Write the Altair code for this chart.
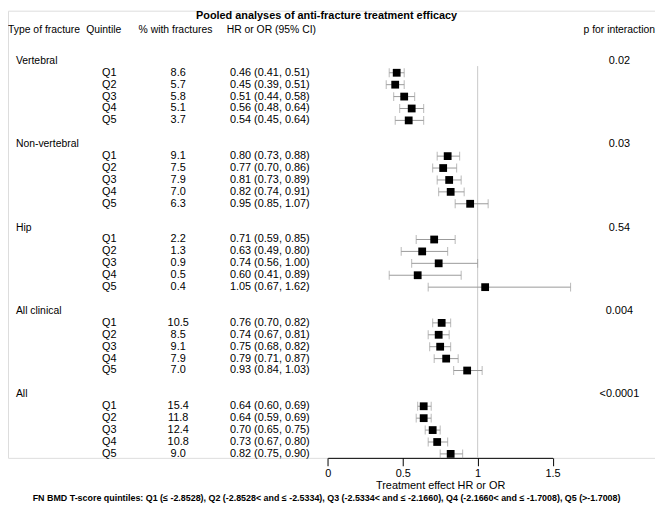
import altair as alt
import pandas as pd

# ---------------- data ----------------
groups = ["Vertebral", "Non-vertebral", "Hip", "All clinical", "All"]
quintiles = ["Q1", "Q2", "Q3", "Q4", "Q5"]
pct_with_fractures = [
    [8.6, 5.7, 5.8, 5.1, 3.7],
    [9.1, 7.5, 7.9, 7.0, 6.3],
    [2.2, 1.3, 0.9, 0.5, 0.4],
    [10.5, 8.5, 9.1, 7.9, 7.0],
    [15.4, 11.8, 12.4, 10.8, 9.0],
]
hr = [
    [0.46, 0.45, 0.51, 0.56, 0.54],
    [0.80, 0.77, 0.81, 0.82, 0.95],
    [0.71, 0.63, 0.74, 0.60, 1.05],
    [0.76, 0.74, 0.75, 0.79, 0.93],
    [0.64, 0.64, 0.70, 0.73, 0.82],
]
ci_low = [
    [0.41, 0.39, 0.44, 0.48, 0.45],
    [0.73, 0.70, 0.73, 0.74, 0.85],
    [0.59, 0.49, 0.56, 0.41, 0.67],
    [0.70, 0.67, 0.68, 0.71, 0.84],
    [0.60, 0.59, 0.65, 0.67, 0.75],
]
ci_high = [
    [0.51, 0.51, 0.58, 0.64, 0.64],
    [0.88, 0.86, 0.89, 0.91, 1.07],
    [0.85, 0.80, 1.00, 0.89, 1.62],
    [0.82, 0.81, 0.82, 0.87, 1.03],
    [0.69, 0.69, 0.75, 0.80, 0.90],
]
p_interaction = ["0.02", "0.03", "0.54", "0.004", "<0.0001"]
x_ticks = [0, 0.5, 1, 1.5]
title_text = "Pooled analyses of anti-fracture treatment efficacy"
footnote_text = ("FN BMD T-score quintiles: Q1 (\u2264 -2.8528), Q2 (-2.8528< and \u2264 -2.5334), "
                 "Q3 (-2.5334< and \u2264 -2.1660), Q4 (-2.1660< and \u2264 -1.7008), Q5 (>-1.7008)")

# ---------------- tables ----------------
rows = []
group_rows = []
for g, name in enumerate(groups):
    group_rows.append({"row": 7 * g, "group": name, "p": p_interaction[g]})
    for q in range(5):
        rows.append({
            "row": 7 * g + 1 + q,
            "quintile": quintiles[q],
            "pct": f"{pct_with_fractures[g][q]:.1f}",
            "hr": hr[g][q],
            "lo": ci_low[g][q],
            "hi": ci_high[g][q],
            "label": f"{hr[g][q]:.2f} ({ci_low[g][q]:.2f}, {ci_high[g][q]:.2f})",
        })
df = pd.DataFrame(rows)
gdf = pd.DataFrame(group_rows)

FONT = "Liberation Sans"
FS = 10.5
FS_DATA = 11
W, H = 654, 452

xscale = alt.Scale(domain=[0, 1.5], range=[323.2, 550.5], nice=False, zero=False)
yenc = alt.Y("row:Q", scale=alt.Scale(domain=[0, 33], range=[50.7, 448], nice=False, zero=False), axis=None)

base = alt.Chart(df)

ref_line = alt.Chart(pd.DataFrame({"v": [1]})).mark_rule(color="#c8c8c8", strokeWidth=1).encode(
    x=alt.X("v:Q", scale=xscale,
            axis=alt.Axis(values=x_ticks, grid=False, tickSize=8, labelFontSize=11, labelFont=FONT,
                          labelColor="black", domainColor="black", tickColor="black",
                          title="Treatment effect HR or OR", titleFont=FONT, titleFontSize=11,
                          titleFontWeight="normal", titleColor="black", titlePadding=1,
                          labelPadding=2, format="~g", labelFlush=False)),
    y=alt.value(56), y2=alt.value(H),
)

ci = base.mark_rule(color="#9a9a9a", strokeWidth=1).encode(
    x=alt.X("lo:Q", scale=xscale), x2="hi:Q", y=yenc)
cap_lo = base.mark_tick(orient="vertical", size=9, thickness=1, color="#9a9a9a").encode(
    x=alt.X("lo:Q", scale=xscale), y=yenc)
cap_hi = base.mark_tick(orient="vertical", size=9, thickness=1, color="#9a9a9a").encode(
    x=alt.X("hi:Q", scale=xscale), y=yenc)
squares = base.mark_square(size=62, color="black", opacity=1, filled=True).encode(
    x=alt.X("hr:Q", scale=xscale), y=yenc)

def txt(data, field, x, align="left", size=FS_DATA):
    return alt.Chart(data).mark_text(align=align, baseline="middle", font=FONT, fontSize=size,
                                     color="black").encode(
        x=alt.value(x), y=yenc, text=f"{field}:N")

t_group = txt(gdf, "group", 8, size=FS)
t_p = txt(gdf, "p", 618, align="center")
t_q = txt(df, "quintile", 95)
t_pct = txt(df, "pct", 172, align="center")
t_hr = txt(df, "label", 305, align="right")

def fixed(text, x, y, align="left", size=FS, weight="normal"):
    return alt.Chart(pd.DataFrame({"t": [text]})).mark_text(
        align=align, baseline="middle", font=FONT, fontSize=size, fontWeight=weight, color="black"
    ).encode(x=alt.value(x), y=alt.value(y), text="t:N")

headers = [
    fixed("Type of fracture", 0, 20),
    fixed("Quintile", 79, 20),
    fixed("% with fractures", 132, 20),
    fixed("HR or OR (95% CI)", 221, 20),
    fixed("p for interaction", W, 20, align="right"),
    fixed(title_text, 322, 5, align="center", size=11, weight="bold"),
    fixed(footnote_text, 322, 493, align="center", size=9, weight="bold"),
]

chart = alt.layer(ref_line, ci, cap_lo, cap_hi, squares, t_group, t_p, t_q, t_pct, t_hr, *headers).properties(
    width=W, height=H,
    autosize=alt.AutoSizeParams(type="none"),
    padding={"left": 0, "top": 0, "right": 0, "bottom": 51},
).configure_view(stroke=None).configure(background="white")

chart.save("out.html", embed_options={"renderer": "svg", "actions": False})
